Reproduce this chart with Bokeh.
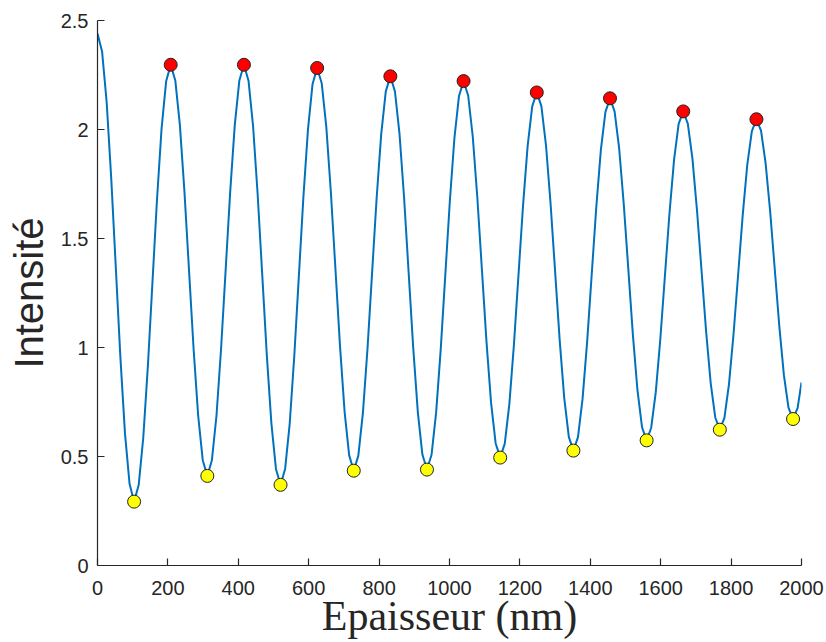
from bokeh.plotting import figure
from bokeh.models import Range1d, FixedTicker, CustomJSTickFormatter
from bokeh.embed import file_html
from bokeh.resources import INLINE

# ---- data ----
thickness_nm = [
    0, 13, 26, 39, 52, 65, 78, 91, 104,
    117, 130, 143, 156, 169, 182, 195, 208,
    221, 234, 247, 260, 273, 286, 299, 312,
    325, 338, 351, 364, 377, 390, 403, 416,
    429, 442, 455, 468, 481, 494, 507, 520,
    533, 546, 559, 572, 585, 598, 611, 624,
    637, 650, 663, 676, 689, 702, 715, 728,
    741, 754, 767, 780, 793, 806, 819, 832,
    845, 858, 871, 884, 897, 910, 923, 936,
    949, 962, 975, 988, 1001, 1014, 1027, 1040,
    1053, 1066, 1079, 1092, 1105, 1118, 1131, 1144,
    1157, 1170, 1183, 1196, 1209, 1222, 1235, 1248,
    1261, 1274, 1287, 1300, 1313, 1326, 1339, 1352,
    1365, 1378, 1391, 1404, 1417, 1430, 1443, 1456,
    1469, 1482, 1495, 1508, 1521, 1534, 1547, 1560,
    1573, 1586, 1599, 1612, 1625, 1638, 1651, 1664,
    1677, 1690, 1703, 1716, 1729, 1742, 1755, 1768,
    1781, 1794, 1807, 1820, 1833, 1846, 1859, 1872,
    1885, 1898, 1911, 1924, 1937, 1950, 1963, 1976,
    1989, 2000,
]

intensity = [
    2.440, 2.358, 2.126, 1.777, 1.367, 0.956, 0.607, 0.375, 0.293,
    0.369, 0.586, 0.912, 1.295, 1.678, 2.004, 2.221, 2.297,
    2.225, 2.021, 1.715, 1.354, 0.993, 0.687, 0.483, 0.411,
    0.483, 0.687, 0.993, 1.354, 1.715, 2.021, 2.225, 2.297,
    2.224, 2.015, 1.702, 1.334, 0.965, 0.652, 0.443, 0.370,
    0.443, 0.650, 0.960, 1.326, 1.692, 2.002, 2.209, 2.282,
    2.212, 2.012, 1.712, 1.359, 1.005, 0.705, 0.505, 0.435,
    0.504, 0.700, 0.993, 1.340, 1.686, 1.979, 2.175, 2.244,
    2.175, 1.980, 1.687, 1.342, 0.997, 0.704, 0.509, 0.440,
    0.508, 0.701, 0.990, 1.331, 1.672, 1.961, 2.154, 2.222,
    2.156, 1.969, 1.689, 1.359, 1.028, 0.748, 0.561, 0.495,
    0.559, 0.740, 1.012, 1.333, 1.653, 1.925, 2.106, 2.170,
    2.107, 1.930, 1.663, 1.349, 1.034, 0.768, 0.590, 0.527,
    0.589, 0.764, 1.026, 1.335, 1.644, 1.906, 2.081, 2.143,
    2.083, 1.913, 1.659, 1.359, 1.058, 0.804, 0.634, 0.574,
    0.632, 0.795, 1.040, 1.329, 1.617, 1.862, 2.026, 2.083,
    2.027, 1.869, 1.632, 1.353, 1.074, 0.837, 0.679, 0.623,
    0.677, 0.832, 1.063, 1.335, 1.607, 1.839, 1.993, 2.047,
    1.995, 1.846, 1.623, 1.360, 1.097, 0.873, 0.724, 0.672,
    0.723, 0.840,
]

max_x = [208, 416, 624, 832, 1040, 1248, 1456, 1664, 1872]
max_y = [2.297, 2.297, 2.282, 2.244, 2.222, 2.170, 2.143, 2.083, 2.047]

min_x = [104, 312, 520, 728, 936, 1144, 1352, 1560, 1768, 1976]
min_y = [0.293, 0.411, 0.370, 0.435, 0.440, 0.495, 0.527, 0.574, 0.623, 0.672]

x_ticks = [0, 200, 400, 600, 800, 1000, 1200, 1400, 1600, 1800, 2000]
y_ticks = [0, 0.5, 1, 1.5, 2, 2.5]

x_label = "Epaisseur (nm)"
y_label = "Intensité"

# ---- figure ----
p = figure(
    width=826, height=642,
    output_backend="svg", toolbar_location=None,
    x_range=Range1d(0, 2000), y_range=Range1d(0, 2.5),
    min_border_left=97, min_border_right=25,
    min_border_top=20, min_border_bottom=77,
)
p.background_fill_color = "white"
p.border_fill_color = "white"
p.outline_line_color = None
p.xgrid.grid_line_color = None
p.ygrid.grid_line_color = None

axis_col = "#262626"
for ax in (p.xaxis, p.yaxis):
    ax.axis_line_color = axis_col
    ax.axis_line_width = 1.2
    ax.major_tick_line_color = axis_col
    ax.major_tick_line_width = 1.2
    ax.major_tick_in = 7
    ax.major_tick_out = 0
    ax.minor_tick_line_color = None
    ax.major_label_text_font = "Liberation Sans"
    ax.major_label_text_font_size = "20px"
    ax.major_label_text_color = axis_col

p.xaxis.ticker = FixedTicker(ticks=x_ticks)
p.yaxis.ticker = FixedTicker(ticks=y_ticks)
p.yaxis.formatter = CustomJSTickFormatter(code="return String(tick);")
p.xaxis.major_label_standoff = 15
p.yaxis.major_label_standoff = 9

p.xaxis.axis_label = x_label
p.xaxis.axis_label_text_font = "Liberation Serif"
p.xaxis.axis_label_text_font_size = "42px"
p.xaxis.axis_label_text_font_style = "normal"
p.xaxis.axis_label_text_color = axis_col
p.xaxis.axis_label_standoff = -5

p.yaxis.axis_label = y_label
p.yaxis.axis_label_text_font = "Liberation Sans"
p.yaxis.axis_label_text_font_size = "40px"
p.yaxis.axis_label_text_font_style = "normal"
p.yaxis.axis_label_text_color = axis_col
p.yaxis.axis_label_standoff = 7

p.line(thickness_nm, intensity, line_color="#0072BD", line_width=2)
p.scatter(max_x, max_y, size=13, marker="circle",
          fill_color="#FF0000", line_color="#222222", line_width=1)
p.scatter(min_x, min_y, size=13, marker="circle",
          fill_color="#FFFF00", line_color="#222222", line_width=1)

open("out.html", "w").write(file_html(p, INLINE))
